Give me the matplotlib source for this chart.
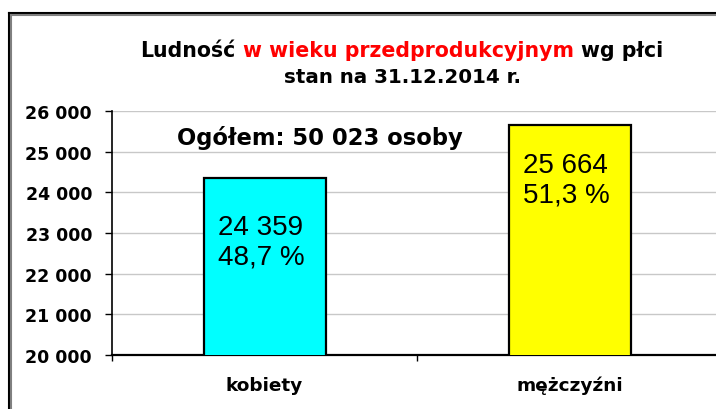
"""Ludność w wieku przedprodukcyjnym wg płci - bar chart."""

import matplotlib

matplotlib.use("Agg")

import matplotlib.pyplot as plt
from matplotlib.lines import Line2D
from matplotlib.ticker import FixedLocator, FuncFormatter


categories = ["kobiety", "mężczyźni"]
values = [24359, 25664]
shares = ["48,7 %", "51,3 %"]
bar_colors = ["#00FFFF", "#FFFF00"]
total_label = "Ogółem: 50 023 osoby"
y_ticks = [20000, 21000, 22000, 23000, 24000, 25000, 26000]
title_parts = [
    ("Ludność", "black"),
    ("w wieku przedprodukcyjnym", "#FF0000"),
    ("wg płci", "black"),
]
title_line2 = "stan na 31.12.2014 r."

W, H = 716, 410


def fx(px):
    return px / W


def fy(py):
    return 1 - py / H


def space_fmt(v, _pos):
    return f"{v:,.0f}".replace(",", " ")


fig = plt.figure(figsize=(W / 100, H / 100), dpi=100)
fig.patch.set_facecolor("white")

# outer frame (black line with a gray inner line), runs past the right/bottom edge
for off, col in [(9, "black"), (11, "#808080")]:
    fig.add_artist(Line2D([fx(off), fx(off)], [fy(off + 5), fy(H + 10)], color=col, lw=1.5))
    fig.add_artist(Line2D([fx(off), fx(W + 10)], [fy(off + 5), fy(off + 5)], color=col, lw=1.5))

ax = fig.add_axes([fx(112), fy(356), fx(610), 244 / H])
x = list(range(len(categories)))
ax.bar(x, values, width=0.4, color=bar_colors, edgecolor="black", linewidth=1.6, zorder=3)

ax.set_xlim(-0.5, 1.5)
ax.set_ylim(20000, 26000)
ax.yaxis.set_major_locator(FixedLocator(y_ticks))
ax.yaxis.set_major_formatter(FuncFormatter(space_fmt))
ax.grid(axis="y", color="#C8C8C8", linewidth=1.0, zorder=0)

ax.set_xticks(x)
ax.set_xticklabels(categories)
ax.xaxis.set_minor_locator(FixedLocator([-0.5, 0.5, 1.5]))
ax.tick_params(axis="x", which="major", length=0, pad=15, labelsize=13.3)
ax.tick_params(axis="x", which="minor", length=4.5, width=1, color="black", direction="out")
ax.tick_params(axis="y", length=5, width=1, pad=9.4, labelsize=12.5)
for lab in ax.get_xticklabels() + ax.get_yticklabels():
    lab.set_fontweight("bold")

for side in ["top", "right"]:
    ax.spines[side].set_visible(False)
ax.spines["left"].set_linewidth(1.2)
ax.spines["bottom"].set_linewidth(1.6)

# value labels inside bars
label_tops = [23469, 24993]
for xi, v, s, top in zip(x, values, shares, label_tops):
    txt = space_fmt(v, None) + "\n" + s
    ax.text(xi - 0.153, top, txt, ha="left", va="top", fontsize=20,
            family="Liberation Sans", linespacing=1.2, zorder=4)

fig.text(fx(177), fy(145), total_label, ha="left", va="baseline",
         fontsize=16.3, fontweight="bold")

# two-coloured first title line
renderer = fig.canvas.get_renderer()
title_kw = dict(fontsize=14.8, fontweight="bold", va="baseline", ha="left")
pieces = [fig.text(0, fy(57), t, color=c, **title_kw) for t, c in title_parts]
probe_a = fig.text(0, 0, "x x", **title_kw)
probe_b = fig.text(0, 0, "xx", **title_kw)
space_w = probe_a.get_window_extent(renderer).width - probe_b.get_window_extent(renderer).width
probe_a.remove()
probe_b.remove()
widths = [p.get_window_extent(renderer).width for p in pieces]
total_w = sum(widths) + space_w * (len(pieces) - 1)
start = 402 - total_w / 2
for p, w in zip(pieces, widths):
    p.set_x(fx(start))
    start += w + space_w

fig.text(fx(402), fy(83), title_line2, ha="center", va="baseline",
         fontsize=14.3, fontweight="bold")

fig.savefig("out.png", dpi=100)
